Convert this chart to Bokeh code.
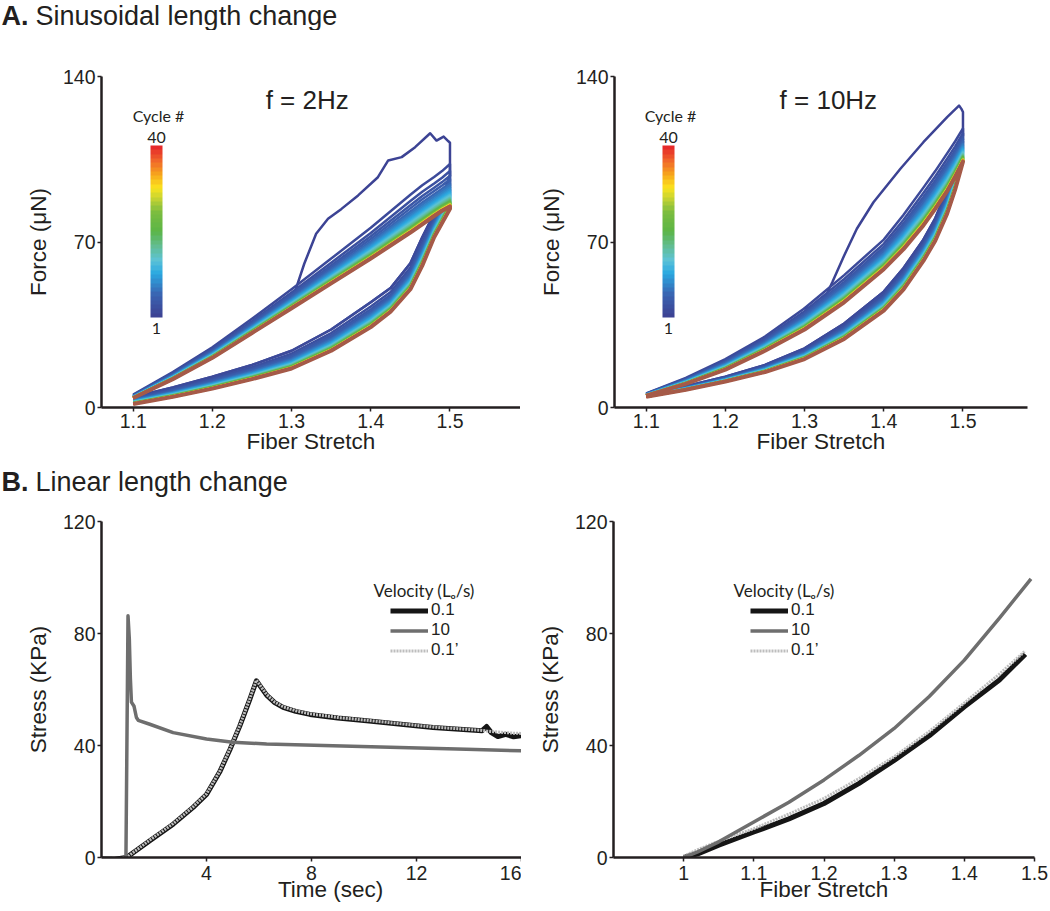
import numpy as np
from bokeh.plotting import figure
from bokeh.layouts import row, column
from bokeh.models import (Range1d, FixedTicker, ColorBar, LinearColorMapper, Label,
                          Legend, LegendItem, ColumnDataSource)
from bokeh.embed import file_html
from bokeh.resources import INLINE

INK = "#231f20"
FONT = "Liberation Sans"
ALT_FONT = "Lato"

# ---------------- Panel A : sinusoidal length change ----------------
cycle_numbers = list(range(1, 41))
stretch_grid = [1.10, 1.15, 1.20, 1.25, 1.30, 1.35, 1.40, 1.425, 1.45, 1.465, 1.48, 1.49, 1.50]

# f = 2 Hz
hz2_first_x = [1.302, 1.316, 1.331, 1.346, 1.363, 1.384, 1.409, 1.422, 1.439, 1.456, 1.475, 1.483, 1.492, 1.498, 1.500]
hz2_first_force = [46.7, 60.8, 73.5, 79.8, 84.0, 89.7, 97.4, 104.5, 105.9, 110.1, 116.0, 112.9, 114.6, 112.6, 112.0]
hz2_load_early = [5.5, 15.0, 25.5, 37.5, 50.0, 63.0, 76.0, 83.0, 90.0, 94.0, 97.5, 100.0, 103.0]
hz2_load_final = [4.0, 12.0, 21.0, 31.5, 42.0, 52.5, 63.0, 68.5, 74.0, 77.5, 81.0, 83.2, 85.0]
hz2_unload_early = [4.5, 8.5, 13.0, 18.0, 24.0, 33.0, 44.5, 50.5, 61.0, 72.0, 82.0, 89.0, 98.0]
hz2_unload_final = [1.5, 4.5, 8.0, 12.0, 16.5, 24.0, 34.0, 40.5, 50.0, 60.0, 72.0, 78.0, 84.0]
hz2_peak = [116.0, 103.0, 100.0, 98.0, 96.5, 95.0, 94.0, 93.0, 92.2, 91.5,
            90.8, 90.2, 89.7, 89.2, 88.8, 88.4, 88.0, 87.7, 87.4, 87.1,
            86.9, 86.7, 86.5, 86.3, 86.1, 86.0, 85.9, 85.8, 85.7, 85.6,
            85.5, 85.45, 85.4, 85.35, 85.3, 85.25, 85.2, 85.15, 85.1, 85.0]

# f = 10 Hz
hz10_first_x = [1.299, 1.312, 1.322, 1.335, 1.350, 1.366, 1.387, 1.421, 1.450, 1.480, 1.495, 1.498, 1.500]
hz10_first_force = [42.0, 42.4, 43.8, 53.0, 64.3, 75.6, 86.8, 101.0, 112.2, 122.8, 127.7, 126.3, 125.0]
hz10_load_early = [6.0, 12.5, 20.5, 30.0, 42.0, 56.0, 71.0, 81.5, 93.0, 100.0, 107.5, 112.5, 118.0]
hz10_load_final = [5.0, 10.0, 16.0, 24.0, 33.0, 44.5, 58.5, 67.0, 77.0, 84.0, 91.5, 97.5, 104.0]
hz10_unload_early = [5.5, 9.0, 13.0, 18.0, 25.0, 35.5, 49.0, 59.0, 71.0, 80.0, 92.0, 102.0, 115.0]
hz10_unload_final = [4.5, 7.5, 11.0, 15.0, 20.5, 29.0, 41.0, 50.0, 62.0, 70.5, 82.0, 92.0, 104.0]
hz10_peak = [127.7, 118.0, 116.0, 114.5, 113.5, 112.5, 111.5, 110.8, 110.1, 109.5,
             109.0, 108.5, 108.0, 107.6, 107.2, 106.9, 106.6, 106.3, 106.1, 105.9,
             105.7, 105.5, 105.3, 105.2, 105.1, 105.0, 104.9, 104.8, 104.7, 104.6,
             104.5, 104.45, 104.4, 104.35, 104.3, 104.25, 104.2, 104.15, 104.1, 104.0]

cycle_bar_stops = [0.0, 0.12, 0.25, 0.33, 0.42, 0.50, 0.62, 0.70, 0.76, 0.84, 0.92, 1.0]
cycle_bar_colors = ["#3c4394", "#3a62b0", "#2aa9e1", "#5ec3d6", "#62bc8c", "#5bb546",
                    "#7dbd3f", "#c8d432", "#fbe41d", "#f7a51c", "#f0682a", "#e62a2a"]
last_cycle_color = "#a55a48"

# ---------------- Panel B : linear length change ----------------
velocity_labels = ["0.1", "10", "0.1\u2019"]

time_fast = [0.0, 0.4, 0.8, 0.88, 0.93, 1.01, 1.06, 1.10, 1.14, 1.24, 1.33, 1.40, 1.84,
             2.73, 4.0, 5.0, 6.29, 8.82, 11.36, 13.9, 16.0]
stress_fast = [-0.6, -0.4, -0.7, -3.0, -1.0, 86.3, 78.0, 64.0, 55.5, 54.0, 50.0, 49.0, 47.6,
               44.6, 42.3, 41.2, 40.5, 39.9, 39.3, 38.7, 38.1]
time_slow = [0.0, 0.5, 0.95, 1.84, 2.73, 3.49, 4.0, 4.5, 4.89, 5.27, 5.65, 5.9, 6.1, 6.29, 6.6,
             6.92, 7.4, 7.94, 9.0, 10.1, 12.63, 14.5, 14.67, 14.85, 15.1, 15.4, 15.7, 16.0]
stress_slow = [-0.5, -0.6, 0.0, 6.0, 11.9, 17.9, 22.5, 30.5, 38.5, 47.0, 56.5, 63.1, 60.5, 58.0, 55.3,
               53.6, 52.2, 51.1, 49.8, 48.8, 46.4, 45.3, 46.8, 44.6, 43.2, 44.0, 43.1, 43.5]
stress_slow_repeat = [-0.5, -0.6, 0.0, 6.2, 12.1, 18.1, 22.7, 30.7, 38.7, 47.2, 56.7, 63.3, 60.7, 58.2, 55.5,
                      53.8, 52.4, 51.3, 50.0, 49.0, 46.6, 45.4, 45.2, 45.0, 44.8, 44.6, 44.4, 44.3]

stretch_slow = [1.0, 1.02, 1.05, 1.1, 1.15, 1.2, 1.25, 1.3, 1.35, 1.4, 1.45, 1.487]
stretch_fast = [1.0, 1.02, 1.05, 1.1, 1.15, 1.2, 1.25, 1.3, 1.35, 1.4, 1.45, 1.495]
stress_b_slow = [0.0, 1.3, 4.4, 9.1, 13.8, 19.3, 26.5, 34.7, 43.5, 53.8, 63.4, 72.6]
stress_b_fast = [0.0, 2.0, 5.6, 12.7, 19.7, 27.7, 36.5, 46.1, 57.5, 70.5, 85.5, 99.5]
stress_b_repeat = [0.5, 2.8, 5.8, 10.3, 15.5, 21.1, 28.2, 36.0, 45.0, 55.2, 65.5, 73.8]


def make_palette(stops, colors, n):
    rgb = np.array([[int(c[i:i + 2], 16) for i in (1, 3, 5)] for c in colors], float)
    out = []
    for t in np.linspace(0, 1, n):
        r = [int(round(np.interp(t, stops, rgb[:, k]))) for k in range(3)]
        out.append("#%02x%02x%02x" % tuple(r))
    return out


palette40 = make_palette(cycle_bar_stops, cycle_bar_colors, len(cycle_numbers))


def make_fig(width, height, left, right, top, bottom, xr, yr):
    p = figure(width=width, height=height, x_range=Range1d(*xr), y_range=Range1d(*yr),
               output_backend="svg", toolbar_location=None, tools="",
               min_border_left=left, min_border_right=right,
               min_border_top=top, min_border_bottom=bottom)
    p.outline_line_color = None
    p.grid.visible = False
    p.background_fill_color = "white"
    p.border_fill_color = "white"
    return p


def heading_fig(height, letter, rest, middle_from_bottom):
    h = figure(width=1050, height=height, x_range=Range1d(0, 1050), y_range=Range1d(0, height),
               output_backend="svg", toolbar_location=None, tools="",
               x_axis_location=None, y_axis_location=None,
               min_border_left=0, min_border_right=0, min_border_top=0, min_border_bottom=0)
    h.outline_line_color = None
    h.xgrid.visible = False
    h.ygrid.visible = False
    h.background_fill_color = "white"
    h.border_fill_color = "white"
    h.add_layout(Label(x=1, y=middle_from_bottom, x_units="screen", y_units="screen", text=letter,
                       text_font=FONT, text_font_size="27px", text_font_style="bold",
                       text_color=INK, text_baseline="middle"))
    h.add_layout(Label(x=35, y=middle_from_bottom, x_units="screen", y_units="screen", text=rest,
                       text_font=FONT, text_font_size="27px", text_color=INK,
                       text_baseline="middle"))
    return h


def style_axes(p, xticks, yticks, xlabel, ylabel, x_tick_standoff, x_label_standoff):
    p.xaxis.ticker = FixedTicker(ticks=xticks)
    p.yaxis.ticker = FixedTicker(ticks=yticks)
    p.xaxis.axis_label = xlabel
    p.yaxis.axis_label = ylabel
    for ax in p.axis:
        ax.axis_line_width = 2.5
        ax.axis_line_color = INK
        ax.major_tick_line_color = INK
        ax.major_tick_line_width = 1.5
        ax.major_tick_out = 4
        ax.major_tick_in = 0
        ax.minor_tick_line_color = None
        ax.major_label_text_font = FONT
        ax.major_label_text_font_size = "19.5px"
        ax.major_label_text_color = INK
        ax.axis_label_text_font = FONT
        ax.axis_label_text_font_size = "22.5px"
        ax.axis_label_text_font_style = "normal"
        ax.axis_label_text_color = INK
    p.yaxis.major_label_standoff = 2
    p.yaxis.axis_label_standoff = 9
    p.xaxis.major_label_standoff = x_tick_standoff
    p.xaxis.axis_label_standoff = x_label_standoff


def cycle_source(first_x, first_f, peaks, load_early, load_final, unload_early, unload_final):
    xs, ys = [], []
    xs.append(list(first_x) + stretch_grid[::-1])
    ys.append(list(first_f) + unload_early[::-1])
    span = load_early[-1] - load_final[-1]
    for pk in peaks[1:]:
        w = (pk - load_final[-1]) / span
        load = [f + w * (e - f) for e, f in zip(load_early, load_final)]
        unload = [f + w * (e - f) for e, f in zip(unload_early, unload_final)]
        xs.append(stretch_grid + stretch_grid[::-1])
        ys.append(load + unload[::-1])
    colors = list(palette40)
    colors[-1] = last_cycle_color
    widths = [2.5] * (len(peaks) - 1) + [4.0]
    return ColumnDataSource(dict(xs=xs, ys=ys, color=colors, width=widths, cycle=cycle_numbers))


def add_cycle_bar(p, bar_x, center_x, label_x):
    mapper = LinearColorMapper(palette=palette40, low=cycle_numbers[0], high=cycle_numbers[-1])
    cb = ColorBar(color_mapper=mapper, location=(bar_x, 90), width=12, height=172,
                  orientation="vertical", ticker=FixedTicker(ticks=[]),
                  major_tick_line_color=None, bar_line_color=None, label_standoff=0,
                  major_label_text_font_size="0px", padding=0, margin=0,
                  background_fill_alpha=0, border_line_color=None)
    p.add_layout(cb)
    for txt, x, y in [("Cycle #", label_x, 292), (str(cycle_numbers[-1]), center_x, 270),
                      (str(cycle_numbers[0]), center_x, 79)]:
        p.add_layout(Label(x=x, y=y, x_units="screen", y_units="screen", text=txt,
                           text_font=ALT_FONT, text_font_size="16px", text_color=INK,
                           text_align="center", text_baseline="middle"))


# ---- headings ----
headA = heading_fig(30, "A.", "Sinusoidal length change", 15.0)
headB = heading_fig(32, "B.", "Linear length change", 15.5)

# ---- A, 2 Hz ----
pA1 = make_fig(520, 435, 101, 0, 46, 58, (1.06, 1.06 + 419 / 792), (0, 140))
style_axes(pA1, [1.1, 1.2, 1.3, 1.4, 1.5], [0, 70, 140], "Fiber Stretch", "Force (\u03bcN)", 2, -2)
pA1.multi_line(xs="xs", ys="ys", line_color="color", line_width="width", line_join="round",
               source=cycle_source(hz2_first_x, hz2_first_force, hz2_peak, hz2_load_early,
                                   hz2_load_final, hz2_unload_early, hz2_unload_final))
add_cycle_bar(pA1, 49, 55, 57)
pA1.add_layout(Label(x=1.3197, y=130, text="f = 2Hz", text_font=FONT, text_font_size="26px",
                     text_color=INK, text_align="center", text_baseline="middle"))

# ---- A, 10 Hz ----
pA2 = make_fig(530, 435, 94, 23, 46, 58, (1.06, 1.06 + 413 / 792), (0, 140))
style_axes(pA2, [1.1, 1.2, 1.3, 1.4, 1.5], [0, 70, 140], "Fiber Stretch", "Force (\u03bcN)", 2, -2)
pA2.multi_line(xs="xs", ys="ys", line_color="color", line_width="width", line_join="round",
               source=cycle_source(hz10_first_x, hz10_first_force, hz10_peak, hz10_load_early,
                                   hz10_load_final, hz10_unload_early, hz10_unload_final))
add_cycle_bar(pA2, 48, 54, 56)
pA2.add_layout(Label(x=1.330, y=130, text="f = 10Hz", text_font=FONT, text_font_size="26px",
                     text_color=INK, text_align="center", text_baseline="middle"))


def velocity_lines(p, x_slow, y_slow, y_rep, x_fast, y_fast, legend_x, title_x):
    r_slow = p.line(x_slow, y_slow, line_color="#151515", line_width=5, line_join="round")
    r_rep = p.line(x_slow, y_rep, line_color="#bdbdbd", line_width=3, line_dash="2 1")
    r_fast = p.line(x_fast, y_fast, line_color="#6e6e6e", line_width=3.5, line_join="round")
    leg = Legend(items=[LegendItem(label=velocity_labels[0], renderers=[r_slow]),
                        LegendItem(label=velocity_labels[1], renderers=[r_fast]),
                        LegendItem(label=velocity_labels[2], renderers=[r_rep])],
                 location=(legend_x, 197), orientation="vertical", glyph_width=38,
                 glyph_height=19, label_height=19, label_standoff=3, spacing=0, padding=0,
                 margin=0, border_line_color=None, background_fill_alpha=0,
                 label_text_font=FONT, label_text_font_size="17px", label_text_color=INK)
    p.add_layout(leg)
    p.add_layout(Label(x=title_x, y=267, x_units="screen", y_units="screen",
                       text="Velocity (L\u2092/s)", text_font=ALT_FONT, text_font_size="17px",
                       text_color=INK, text_baseline="middle"))


# ---- B, stress vs time ----
pB1 = make_fig(521, 414, 101, 0, 24, 54, (0, 16), (0, 120))
style_axes(pB1, [4, 8, 12, 16], [0, 40, 80, 120], "\u2003\u2002\u2009Time (sec)", "Stress (KPa)", 4, -6)
velocity_lines(pB1, time_slow, stress_slow, stress_slow_repeat, time_fast, stress_fast, 289, 272)

# ---- B, stress vs stretch ----
pB2 = make_fig(529, 414, 92, 16, 24, 54, (0.9, 1.5), (0, 120))
style_axes(pB2, [1, 1.1, 1.2, 1.3, 1.4, 1.5], [0, 40, 80, 120], "Fiber Stretch", "Stress (KPa)", 4, -6)
pB2.xaxis.major_label_overrides = {1: "1"}
velocity_lines(pB2, stretch_slow, stress_b_slow, stress_b_repeat, stretch_fast, stress_b_fast, 137, 120)

layout = column(headA, row(pA1, pA2), headB, row(pB1, pB2))

open("out.html", "w").write(file_html(layout, INLINE))
